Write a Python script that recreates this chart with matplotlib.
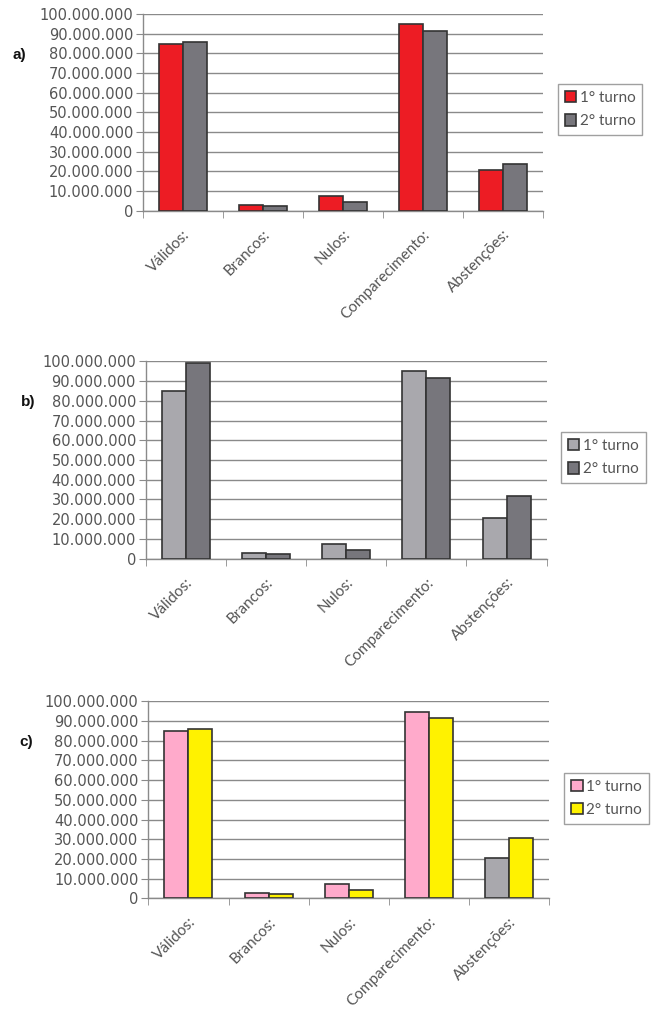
import matplotlib
matplotlib.use("Agg")
import matplotlib.pyplot as plt
from matplotlib.ticker import FuncFormatter, FixedLocator
from matplotlib.patches import Patch
import numpy as np

categories = ["Válidos:", "Brancos:", "Nulos:", "Comparecimento:", "Abstenções:"]
legend_labels = ["1° turno", "2° turno"]
yticks = [0, 10e6, 20e6, 30e6, 40e6, 50e6, 60e6, 70e6, 80e6, 90e6, 100e6]

a_turno1 = [84.9e6, 2.9e6, 7.3e6, 95.0e6, 20.6e6]
a_turno2 = [86.0e6, 2.2e6, 4.4e6, 91.4e6, 23.8e6]

b_turno1 = [85.0e6, 2.9e6, 7.4e6, 95.0e6, 20.5e6]
b_turno2 = [99.0e6, 2.2e6, 4.2e6, 91.5e6, 31.6e6]

c_turno1 = [85.0e6, 2.8e6, 7.3e6, 94.7e6, 20.5e6]
c_turno2 = [86.1e6, 2.0e6, 4.1e6, 91.5e6, 30.8e6]

a_colors1 = ["#ED1C24"] * 5
a_colors2 = ["#77767C"] * 5
b_colors1 = ["#A9A8AD"] * 5
b_colors2 = ["#77767C"] * 5
c_colors1 = ["#FFAACB", "#FFAACB", "#FFAACB", "#FFAACB", "#A9A8AD"]
c_colors2 = ["#FFF200"] * 5
c_legend_colors = ["#FFAACB", "#FFF200"]

panel_letters = ["a)", "b)", "c)"]

W, H = 653, 1024
fig = plt.figure(figsize=(W / 100, H / 100), dpi=100)

TXT = "#555555"
GRID = "#8a8a8a"


def fmt(v, pos):
    return f"{int(round(v)):,}".replace(",", ".")


def panel(rect, t1, t2, col1, col2, leg_cols, leg_xy, letter, letter_xy):
    ax = fig.add_axes(rect)
    x = np.arange(len(categories))
    w = 0.3
    ax.bar(x - w / 2, t1, w, color=col1, edgecolor="#333333", linewidth=1.2, zorder=3)
    ax.bar(x + w / 2, t2, w, color=col2, edgecolor="#333333", linewidth=1.2, zorder=3)
    ax.set_xlim(-0.5, len(categories) - 0.5)
    ax.set_ylim(0, 100e6)
    ax.yaxis.set_major_locator(FixedLocator(yticks))
    ax.yaxis.set_major_formatter(FuncFormatter(fmt))
    ax.grid(axis="y", color=GRID, linewidth=1.0, zorder=0)
    ax.set_axisbelow(True)
    for s in ["top", "right"]:
        ax.spines[s].set_visible(False)
    ax.spines["left"].set_color(GRID)
    ax.spines["bottom"].set_color(GRID)
    ax.spines["left"].set_linewidth(1.0)
    ax.spines["bottom"].set_linewidth(1.0)
    ax.tick_params(axis="y", direction="out", length=5, color=GRID, labelsize=10.5,
                   labelcolor=TXT, pad=2)
    ax.set_xticks(x)
    ax.set_xticklabels(categories, rotation=45, ha="right", rotation_mode="anchor",
                       fontsize=11, color=TXT, family="Lato")
    ax.tick_params(axis="x", which="major", length=0, pad=12)
    ax.set_xticks(np.arange(len(categories) + 1) - 0.5, minor=True)
    ax.tick_params(axis="x", which="minor", direction="out", length=5, color=GRID)
    handles = [Patch(facecolor=leg_cols[0], edgecolor="#333333", linewidth=1.2),
               Patch(facecolor=leg_cols[1], edgecolor="#333333", linewidth=1.2)]
    leg = fig.legend(handles, legend_labels, loc="upper left",
                     bbox_to_anchor=leg_xy, bbox_transform=fig.transFigure,
                     frameon=True, fancybox=False,
                     prop={"family": "Lato", "size": 11}, handlelength=0.75,
                     handleheight=0.75, handletextpad=0.25, labelspacing=0.6,
                     borderpad=0.45, borderaxespad=0, labelcolor=TXT)
    leg.get_frame().set_edgecolor("#888888")
    leg.get_frame().set_linewidth(1.0)
    fig.text(letter_xy[0], letter_xy[1], letter, fontsize=11, fontweight="bold",
             family="Liberation Sans", color="#111111", ha="left", va="center")
    return ax


panel([143 / W, 1 - 210.7 / H, 400 / W, 196.7 / H], a_turno1, a_turno2,
      a_colors1, a_colors2, [a_colors1[0], a_colors2[0]],
      (557.7 / W, 1 - 84.3 / H), panel_letters[0], (12 / W, 1 - 55 / H))
panel([145.7 / W, 1 - 558.7 / H, 401 / W, 197.4 / H], b_turno1, b_turno2,
      b_colors1, b_colors2, [b_colors1[0], b_colors2[0]],
      (561 / W, 1 - 432.3 / H), panel_letters[1], (21 / W, 1 - 402 / H))
panel([148.3 / W, 1 - 898.3 / H, 401 / W, 197 / H], c_turno1, c_turno2,
      c_colors1, c_colors2, c_legend_colors,
      (564.3 / W, 1 - 772.7 / H), panel_letters[2], (19 / W, 1 - 742 / H))

fig.savefig("out.png", dpi=100, facecolor="white")
